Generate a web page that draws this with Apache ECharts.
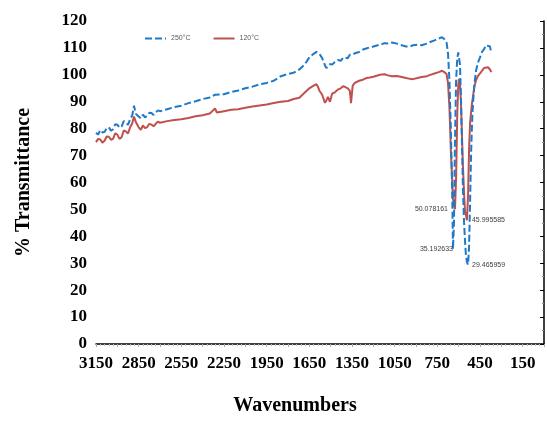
<!DOCTYPE html>
<html>
<head>
<meta charset="utf-8">
<script src="https://cdn.jsdelivr.net/npm/echarts@6/dist/echarts.min.js"></script>
<style>html,body{margin:0;padding:0;background:#fff}#c{width:547px;height:421px}</style>
</head>
<body>
<div id="c"></div>
<script>
// Wavenumbers (cm-1), shared by both spectra
var wavenumbers = [3150,3135,3120,3105,3090,3075,3060,3045,3030,3015,3000,2985,2970,2955,2940,2925,2910,2895,2883,2870,2850,2835,2820,2805,2790,2775,2760,2745,2730,2715,2700,2650,2600,2550,2500,2450,2400,2350,2313,2300,2250,2200,2150,2100,2050,2000,1950,1900,1850,1800,1760,1720,1680,1650,1620,1600,1589,1580,1570,1560,1550,1540,1530,1519,1505,1490,1470,1450,1430,1410,1399,1380,1365,1357,1345,1330,1300,1273,1250,1224,1200,1153,1120,1104,1070,1034,1000,970,942,921,890,860,823,800,770,740,717,700,685,675,665,655,645,640,633,626,618,610,603,598,591,584,577,570,562,555,549,542,534,527,520,513,506,499,490,478,465,450,436,422,408,394,380,370];
// % Transmittance, 250 °C sample (blue dashed)
var t250 = [78.5,77.8,79.5,78.6,78.8,80.2,80.5,79.2,79.8,81.6,81.5,80.4,80.8,82.8,82.5,81.4,83.5,85,88.5,85.5,84.5,83.8,85.2,84.2,84.8,85.9,85.8,85.1,86,86.8,86.5,87.2,88,88.5,89.5,90.2,91,91.6,92.6,92.2,92.8,93.6,94.2,95,95.6,96.5,97,97.8,99.5,100.3,100.8,102,104,106.5,107.8,108.5,108.3,107.9,107.5,106.2,105,103.5,102.5,103,104,103.8,104.8,105.5,105.2,106.5,107,106.2,107.5,107,107.5,108,108.5,109.4,109.8,110.2,110.5,111.2,111.8,111.6,112,111.6,111,110.5,110.5,111,111.2,111,111.6,112.2,112.8,113.5,114,113.2,112,108,98,80,55,35.192633,45,75,98,106,108.3,108,104,92,75,58,45,38,33,30.5,29.465959,36,52,70,82,89.6,96,101.5,104.5,106.5,108.5,109.5,111,111.2,110.5,108];
// % Transmittance, 120 °C sample (red)
var t120 = [75,76.2,76,74.8,75.5,77.1,77,75.9,76.2,78.3,77.8,76.2,76.8,79.3,79,78.2,80.5,82,84.5,82.5,80.5,79.6,81.2,80.2,80.6,81.8,81.5,80.9,81.8,82.6,82.2,82.8,83.2,83.5,84,84.6,85,85.6,87.5,86,86.5,87,87.2,87.8,88.2,88.6,89,89.5,90,90.3,91,91.5,93.5,95,96,96.5,95.5,94.2,94,92.6,92,89.6,90.5,91.8,90,93,93.5,94.5,95,95.8,95.5,95,94,89.5,96,97,97.8,98.2,98.8,99,99.3,100,100.2,99.9,99.5,99.6,99.2,98.8,98.5,98.4,98.8,99.2,99.5,100,100.5,101,101.5,101,100.3,97,88,72,60,54,51.5,50.078161,62,85,96,98.5,97,90,78,66,56,49,48,45.995585,55,72,82,86,89.6,92,95.5,98,99.5,100.5,101,102.5,103,102.8,102,101];
var seriesNames = ['250°C', '120°C'];
// Labelled minima: [wavenumber, value]
var minima250 = [[640, 35.192633], [534, 29.465959]];
var minima120 = [[626, 50.078161], [542, 45.995585]];
var xTickLabels = [3150,2850,2550,2250,1950,1650,1350,1050,750,450,150];

function pairs(vals){ return wavenumbers.map(function(w,i){ return [w, vals[i]]; }); }
var lblStyle = {fontSize: 7, color: '#404040', fontFamily: 'Liberation Sans'};

var chart = echarts.init(document.getElementById('c'), null, {renderer: 'canvas'});
chart.setOption({
  animation: false,
  backgroundColor: '#fff',
  grid: {left: 96, right: 3, top: 21, bottom: 73, containLabel: false},
  legend: {
    left: 139, top: 30,
    itemWidth: 21, itemHeight: 8, itemGap: 22,
    itemStyle: {opacity: 0},
    textStyle: {fontSize: 7, color: '#595959', fontFamily: 'Liberation Sans'},
    data: seriesNames
  },
  xAxis: {
    type: 'value', inverse: true, min: 0, max: 3150, interval: 150,
    name: 'Wavenumbers', nameLocation: 'middle', nameGap: 52,
    nameTextStyle: {fontFamily: 'Liberation Serif', fontWeight: 'bold', fontSize: 20, color: '#000', padding: [0, 50, 0, 0]},
    axisLine: {lineStyle: {color: '#000', width: 1.5}},
    axisTick: {show: true, length: 3, lineStyle: {color: '#aaa', width: 1}},
    minorTick: {show: true, splitNumber: 5, length: 2, lineStyle: {color: '#bbb'}},
    splitLine: {show: false},
    axisLabel: {
      margin: 11, fontFamily: 'Liberation Serif', fontWeight: 'bold', fontSize: 17, color: '#000',
      formatter: function(v){ return xTickLabels.indexOf(v) >= 0 ? String(v) : ''; },
      showMaxLabel: true, showMinLabel: false
    }
  },
  yAxis: {
    type: 'value', min: 0, max: 120, interval: 10,
    name: '% Transmittance', nameLocation: 'middle', nameGap: 62,
    nameTextStyle: {fontFamily: 'Liberation Serif', fontWeight: 'bold', fontSize: 20, color: '#000'},
    axisLine: {show: true, lineStyle: {color: '#000', width: 1.5}},
    axisTick: {show: true, length: 4, lineStyle: {color: '#000'}},
    minorTick: {show: true, splitNumber: 2, length: 2, lineStyle: {color: '#888'}},
    splitLine: {show: false},
    axisLabel: {margin: 9, fontFamily: 'Liberation Serif', fontWeight: 'bold', fontSize: 17, color: '#000'}
  },
  series: [
    {
      name: seriesNames[0], type: 'line', data: pairs(t250), symbol: 'none', z: 3,
      lineStyle: {color: '#1f78c8', width: 2, type: [7, 3]},
      itemStyle: {color: '#1f78c8'},
      markPoint: {
        symbol: 'circle', symbolSize: 0,
        data: [
          {coord: minima250[0], value: minima250[0][1], label: {show: true, position: 'left', distance: 0, formatter: '{c}', ...lblStyle}},
          {coord: minima250[1], value: minima250[1][1], label: {show: true, position: 'right', distance: 4, formatter: '{c}', ...lblStyle}}
        ]
      }
    },
    {
      name: seriesNames[1], type: 'line', data: pairs(t120), symbol: 'none', z: 2,
      lineStyle: {color: '#c0504d', width: 2},
      itemStyle: {color: '#c0504d'},
      markPoint: {
        symbol: 'circle', symbolSize: 0,
        data: [
          {coord: minima120[0], value: minima120[0][1], label: {show: true, position: 'left', distance: 7, formatter: '{c}', ...lblStyle}},
          {coord: minima120[1], value: minima120[1][1], label: {show: true, position: 'right', distance: 5, formatter: '{c}', ...lblStyle}}
        ]
      }
    }
  ]
});
</script>
</body>
</html>
